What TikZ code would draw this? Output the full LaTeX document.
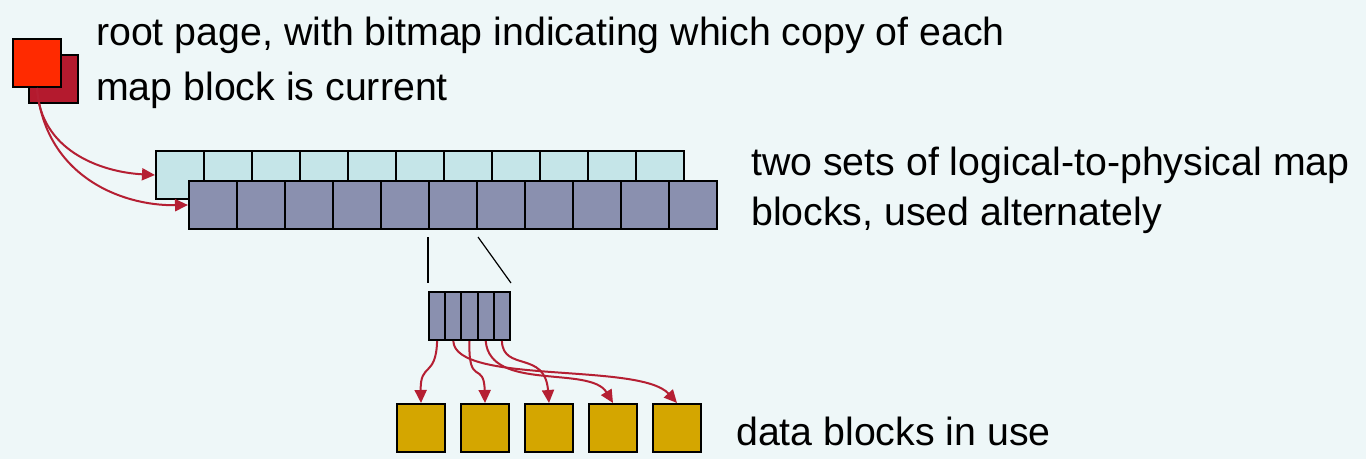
\documentclass[tikz,border=0pt]{standalone}
\usepackage{fontspec}
\setmainfont{Liberation Sans}
\usetikzlibrary{arrows.meta}
\definecolor{bg}{HTML}{EEF7F8}
\definecolor{rootred}{HTML}{FF2A00}
\definecolor{darkred}{HTML}{B41A2E}
\definecolor{lightmap}{HTML}{C5E5E8}
\definecolor{darkmap}{HTML}{8A90AF}
\definecolor{datagold}{HTML}{D4A600}
\definecolor{ptr}{HTML}{B51F33}
\begin{document}
\begin{tikzpicture}[x=1pt,y=-1pt,
  box/.style={draw=black,line width=2pt,inner sep=0pt,anchor=north west},
  sq/.style={box,minimum width=48pt,minimum height=48pt},
  thin cell/.style={box,minimum width=16.2pt,minimum height=48pt,fill=darkmap},
  ptrarrow/.style={draw=ptr,line width=2pt,-{Triangle[length=13pt,width=12pt]}},
  label/.style={inner sep=0pt,anchor=base west,font=\fontsize{39.3}{46}\selectfont},
  zoomline/.style={draw=black,line width=1.2pt}]
  \fill[bg] (0,0) rectangle (1366,459);
  \useasboundingbox (0,0) rectangle (1366,459);

  % root page and its shadow copy
  \node[sq,fill=darkred,minimum width=49pt] (rootback) at (28,54) {};
  \node[sq,fill=rootred] (rootfront) at (12,38) {};

  % two sets of map blocks
  \foreach \i in {1,...,11}
    \node[sq,fill=lightmap] (L\i) at ({155+48*(\i-1)},150) {};
  \foreach \i in {1,...,11}
    \node[sq,fill=darkmap] (D\i) at ({188+48*(\i-1)},180) {};

  % one map block, enlarged
  \foreach \i in {1,...,5}
    \node[thin cell] (S\i) at ({428+16.2*(\i-1)},291) {};

  % data blocks
  \foreach \i in {1,...,5}
    \node[sq,fill=datagold] (B\i) at ({396+64*(\i-1)},403) {};

  % pointers from the root page
  \draw[ptrarrow] (rootfront.south) .. controls (40,150) and (100,172) .. (L1.west);
  \draw[ptrarrow] (rootfront.south) .. controls (45,175) and (120,206) .. (D1.west);

  % enlargement lines
  \draw[zoomline] ([yshift=-7pt]D6.south west) -- ([yshift=8pt]S1.north west);
  \draw[zoomline] ([yshift=-7pt]D6.south east) -- ([yshift=8pt]S5.north east);

  % pointers to data blocks
  \draw[ptrarrow] (S1.south) .. controls (436,378) and (420,362) .. (B1.north);
  \draw[ptrarrow] (S2.south) .. controls (455,385) and (640,362) .. (B5.north);
  \draw[ptrarrow] (S3.south) .. controls (468,388) and (484,360) .. (B2.north);
  \draw[ptrarrow] (S4.south) .. controls (490,392) and (590,365) .. (B4.north);
  \draw[ptrarrow] (S5.south) .. controls (503,372) and (545,350) .. (B3.north);

  % labels
  \node[label] (t1) at (96,45) {root page, with bitmap indicating which copy of each};
  \node[label] (t2) at (96,100) {map block is current};
  \node[label] (t3) at (751,175) {two sets of logical-to-physical map};
  \node[label] (t4) at (751,225) {blocks, used alternately};
  \node[label] (t5) at (736,445) {data blocks in use};
\end{tikzpicture}
\end{document}
